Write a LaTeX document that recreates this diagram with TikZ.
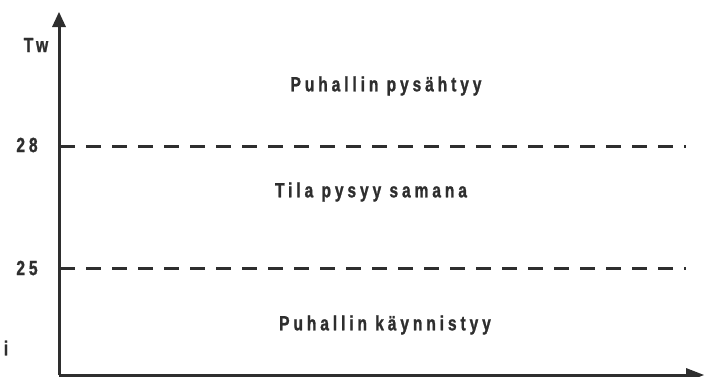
\documentclass[tikz,border=0pt]{standalone}
\usepackage{fontspec}
\newfontfamily\lblfont{Liberation Sans}[FakeStretch=0.76,LetterSpace=19,FakeBold=1.2]
\definecolor{ink}{HTML}{2E2E2E}
\begin{document}
\begin{tikzpicture}[x=1pt,y=-1pt,
  lbl/.style={font=\lblfont\bfseries\fontsize{20.5}{24}\selectfont, text=ink, inner sep=0pt},
  axis/.style={draw=ink, line width=3pt},
  level/.style={draw=ink, line width=3pt, dash pattern=on 15pt off 11pt}]
\useasboundingbox (0,0) rectangle (707,376);
\coordinate (o) at (59,375);
\coordinate (ytop) at (59,12);
\coordinate (xend) at (704,375);
\draw[axis] (o) -- (59,26);
\fill[ink] (ytop) -- (52,27) -- (66,27) -- cycle;
\draw[axis] (o) -- (690,375);
\fill[ink] (xend) -- (686,368) -- (686,382) -- cycle;
\coordinate (a28) at (60,146);
\coordinate (b28) at (686,146);
\coordinate (a25) at (60,268);
\coordinate (b25) at (686,268);
\draw[level] (a28) -- (b28);
\draw[level] (a25) -- (b25);
\node[lbl] (tw) at (36,45) {Tw};
\node[lbl] (t28) at (27,145) {28};
\node[lbl] (t25) at (27,268) {25};
\node[lbl] (ti) at (6,348) {i};
\node[lbl] (stop) at (386,86) {Puhallin pysähtyy};
\node[lbl] (same) at (371,192) {Tila pysyy samana};
\node[lbl] (start) at (385,325) {Puhallin käynnistyy};
\end{tikzpicture}
\end{document}
